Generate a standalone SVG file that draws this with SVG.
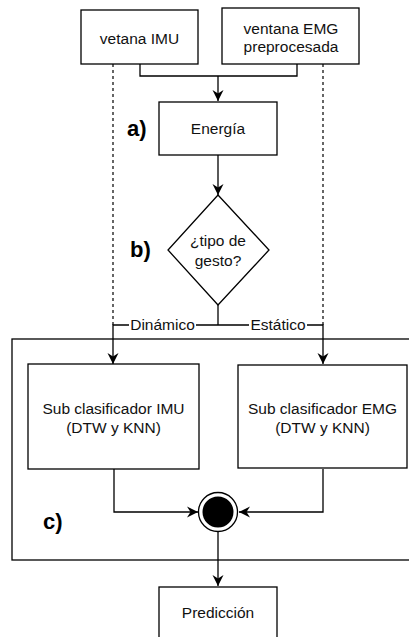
<svg xmlns="http://www.w3.org/2000/svg" width="409" height="637" viewBox="0 0 409 637">
<style>
.box{fill:#fff;stroke:#000;stroke-width:1.3}
.t{font-family:"Liberation Sans",Arial,sans-serif;font-size:15.5px;fill:#111;text-anchor:middle}
.lbl{font-family:"Liberation Sans",Arial,sans-serif;font-size:22px;font-weight:bold;fill:#000}
.ln{fill:none;stroke:#000;stroke-width:1.3}
.dash{fill:none;stroke:#000;stroke-width:1.2;stroke-dasharray:3,3}
</style>
<defs>
<marker id="ar" markerWidth="12" markerHeight="12" refX="11" refY="6" orient="auto" markerUnits="userSpaceOnUse">
<path d="M0,0.5 L11,6 L0,11.5 L3.5,6 z" fill="#000"/>
</marker>
</defs>
<rect x="12" y="339" width="420" height="221" class="box"/>
<g id="connectors">
<path class="dash" d="M113,64 V325"/>
<path class="dash" d="M323,64 V325"/>
<path class="ln" d="M140,64 V76 H297 V64"/>
<path class="ln" d="M218,76 V101" marker-end="url(#ar)"/>
<path class="ln" d="M218,155 V195" marker-end="url(#ar)"/>
<path class="ln" d="M218,305 V325"/>
<path class="ln" d="M218,325 H113 V364" marker-end="url(#ar)"/>
<path class="ln" d="M218,325 H323 V364" marker-end="url(#ar)"/>
<rect x="129" y="316" width="67" height="16" fill="#fff"/>
<text class="t" x="162.5" y="330">Dinámico</text>
<rect x="249" y="316" width="58" height="16" fill="#fff"/>
<text class="t" x="278" y="330">Estático</text>
<path class="ln" d="M114,469 V512 H198" marker-end="url(#ar)"/>
<path class="ln" d="M323,469 V512 H239" marker-end="url(#ar)"/>
<path class="ln" d="M218,532 V586" marker-end="url(#ar)"/>
</g>
<g id="imu">
<rect x="81" y="10" width="117" height="54" class="box"/>
<text class="t" x="139.5" y="44">vetana IMU</text>
</g>
<g id="emg">
<rect x="222" y="8" width="137" height="56" class="box"/>
<text class="t" x="291" y="34">ventana EMG</text>
<text class="t" x="291" y="52">preprocesada</text>
</g>
<g id="energia">
<rect x="159" y="102" width="118" height="53" class="box"/>
<text class="t" x="218" y="134">Energía</text>
</g>
<g id="decision">
<polygon points="218,195 269,250 218,305 168,250" class="box"/>
<text class="t" x="218" y="246">¿tipo de</text>
<text class="t" x="218" y="266">gesto?</text>
</g>
<g id="subimu">
<rect x="28" y="364" width="171" height="105" class="box"/>
<text class="t" x="113.5" y="414">Sub clasificador IMU</text>
<text class="t" x="113.5" y="433">(DTW y KNN)</text>
</g>
<g id="subemg">
<rect x="238" y="365" width="169" height="103" class="box"/>
<text class="t" x="322.5" y="414">Sub clasificador EMG</text>
<text class="t" x="322.5" y="433">(DTW y KNN)</text>
</g>
<g id="merge">
<circle cx="218" cy="512" r="19.5" fill="#fff" stroke="#000" stroke-width="1.3"/>
<circle cx="218" cy="512" r="15.5" fill="#000"/>
</g>
<g id="prediccion">
<rect x="159" y="587" width="118" height="60" class="box"/>
<text class="t" x="218" y="618">Predicción</text>
</g>
<g id="labels">
<text class="lbl" x="127" y="136">a)</text>
<text class="lbl" x="130" y="257">b)</text>
<text class="lbl" x="43" y="529">c)</text>
</g>
</svg>
